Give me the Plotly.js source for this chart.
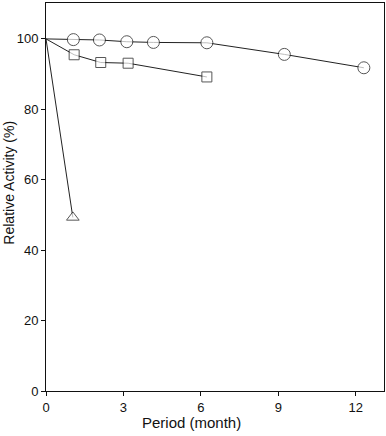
<!DOCTYPE html>
<html><head><meta charset="utf-8">
<script src="https://cdn.plot.ly/plotly-3.0.1.min.js"></script>
<style>body{margin:0;padding:0;background:#fff}#chart{width:386px;height:436px}</style>
</head><body><div id="chart"></div>
<script>
const circleX = [0, 1.06, 2.07, 3.13, 4.16, 6.23, 9.23, 12.31];
const circleY = [100, 99.8, 99.7, 99.2, 99.0, 98.9, 95.6, 91.8];
const squareX = [0, 1.09, 2.12, 3.18, 6.23];
const squareY = [100, 95.5, 93.3, 93.1, 89.2];
const triX = [0, 1.04];
const triY = [100, 49.3];
const xTicks = [0, 3, 6, 9, 12];
const yTicks = [0, 20, 40, 60, 80, 100];
const xTitle = 'Period (month)';
const yTitle = 'Relative Activity (%)';

function mk(x, y, sym, size) {
  return {
    x: x, y: y, type: 'scatter', mode: 'lines+markers',
    line: {color: '#222', width: 1},
    marker: {symbol: sym, size: x.map((v, i) => i === 0 ? 0 : size), color: '#fff',
             line: {color: '#111', width: 1}},
    showlegend: false, hoverinfo: 'skip', cliponaxis: false
  };
}
const data = [
  mk(triX, triY, 'triangle-up', 11),
  mk(squareX, squareY, 'square', 10),
  mk(circleX, circleY, 'circle', 12)
];

const font = {family: 'Liberation Sans, Arial, sans-serif', color: '#111', size: 13};
const layout = {
  width: 386, height: 436,
  margin: {l: 46, r: 2, t: 3, b: 45},
  paper_bgcolor: '#fff', plot_bgcolor: '#fff',
  font: font,
  xaxis: {
    range: [0, 13.09], tickvals: xTicks, ticktext: xTicks.map(String),
    ticks: 'outside', ticklen: 4, tickcolor: '#111', tickwidth: 1,
    showline: true, linecolor: '#111', linewidth: 1, mirror: true,
    showgrid: false, zeroline: false, tickfont: {size: 13}
  },
  yaxis: {
    range: [0, 110.2], tickvals: yTicks, ticktext: yTicks.map(String),
    ticks: 'outside', ticklen: 4, tickcolor: '#111', tickwidth: 1,
    showline: true, linecolor: '#111', linewidth: 1, mirror: true,
    showgrid: false, zeroline: false, tickfont: {size: 13}
  },
  annotations: [
    {text: xTitle, xref: 'paper', yref: 'paper', x: 0.429, y: -0.08,
     xanchor: 'center', yanchor: 'middle', showarrow: false, font: {size: 15}},
    {text: yTitle, xref: 'paper', yref: 'paper', x: -0.1095, y: 0.537,
     xanchor: 'center', yanchor: 'middle', showarrow: false, textangle: -90, font: {size: 14}}
  ]
};
Plotly.newPlot('chart', data, layout, {displayModeBar: false, staticPlot: true});
</script></body></html>
